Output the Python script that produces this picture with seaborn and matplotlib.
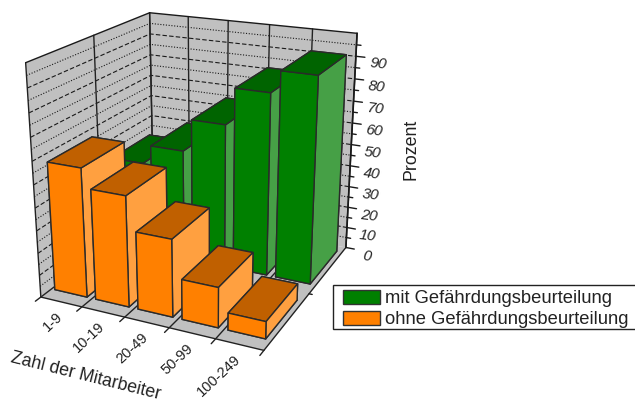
import numpy as np
import matplotlib
matplotlib.use("Agg")
import matplotlib.pyplot as plt
import seaborn as sns
from matplotlib.patches import Patch, Rectangle
from mpl_toolkits.mplot3d import proj3d
from mpl_toolkits.mplot3d.art3d import Poly3DCollection

sns.set_theme(style="white")
plt.rcParams["font.family"] = ["Liberation Sans", "DejaVu Sans"]

categories = ["1-9", "10-19", "20-49", "50-99", "100-249"]
mit = [42.1, 50.9, 65.6, 82.0, 91.7]
ohne = [57.2, 48.8, 34.1, 17.6, 7.5]
z_ticks = list(range(0, 100, 10))
series_labels = ["mit Gefährdungsbeurteilung", "ohne Gefährdungsbeurteilung"]

W, H = 635, 403
fig = plt.figure(figsize=(W / 100, H / 100), dpi=100)
ax = fig.add_axes([0, 0, 1, 1], projection="3d", computed_zorder=False)
ax.set_xlim(0, 5, view_margin=0)
ax.set_ylim(0, 1, view_margin=0)
ax.set_zlim(0, 100, view_margin=0)
ax.view_init(elev=20.4319, azim=-64.5249, roll=0.1614)
ax.set_proj_type("persp", focal_length=0.4677)
ax.set_box_aspect((1, 1.0023, 1.0035))
side, cx, cy = 400.3053, 195.3077, 169.1252
ax.set_position([(cx - side / 2) / W, 1 - (cy + side / 2) / H, side / W, side / H])
ax.apply_aspect()
ax.set_axis_off()
ax.patch.set_visible(False)


def project(x, y, z):
    px, py, _ = proj3d.proj_transform(x, y, z, ax.get_proj())
    return px, py


# Floor and the two walls
wall = "#C0C0C0"
for pts in ([(0, 0, 0), (5, 0, 0), (5, 1, 0), (0, 1, 0)],
            [(0, 0, 0), (0, 1, 0), (0, 1, 100), (0, 0, 100)],
            [(0, 1, 0), (5, 1, 0), (5, 1, 100), (0, 1, 100)]):
    ax.add_collection3d(Poly3DCollection([pts], facecolors=wall, edgecolors="none", zorder=0))

# Wall grid: dashed at tens, dotted at fives
for z in range(5, 100, 5):
    ls = (0, (4, 2)) if z % 10 == 0 else (0, (1, 1.5))
    ax.plot([0, 0, 5], [0, 1, 1], [z, z, z], color="k", lw=0.8, ls=ls, zorder=1)
frame = "#222222"
for i in range(6):
    ax.plot([i, i], [1, 1], [0, 100], color=frame, lw=1, zorder=1)
    ax.plot([i, i], [-0.04, 1], [0, 0], color=frame, lw=1, zorder=1)
for y in (0, 0.5, 1):
    ax.plot([0, 0], [y, y], [0, 100], color=frame, lw=1, zorder=1)
ax.plot([0, 5], [0, 0], [0, 0], color=frame, lw=1, zorder=1)
ax.plot([5, 5.07], [0.5, 0.5], [0, 0], color="k", lw=1, zorder=1)
ax.plot([0, 0, 5], [0, 1, 1], [100, 100, 100], color="k", lw=1, zorder=1)
ax.plot([5, 5], [1, 1], [0, 100], color="k", lw=1.2, zorder=1)
for z in range(0, 100, 5):
    ax.plot([5, 5 + (0.2 if z % 10 == 0 else 0.1)], [1, 1], [z, z], color="k", lw=1, zorder=1)

# Tick labels
text_color = "#222222"
for z in z_ticks:
    ax.text2D(*project(5.5, 1, z - 2.3), str(z), transform=ax.transData, style="italic",
              fontsize=11, rotation=-6, ha="center", va="center", color=text_color, zorder=5)
for i, label in enumerate(categories):
    ax.annotate(label, xy=project(i + 0.5, 0, 0), xycoords="data", xytext=(-1, -13),
                textcoords="offset pixels", rotation=43, fontsize=10.5, ha="right", va="center",
                rotation_mode="anchor", color=text_color, zorder=5)

# Bars: front, top and side faces each have their own shade
green = sns.color_palette(["#008000", "#006400", "#46A046"])
orange = sns.color_palette(["#FF8000", "#C06000", "#FFA040"])
bar_offset, bar_width = 0.081, 0.791


def bars(values, y0, depth, shades, base_order):
    front, top, flank = shades
    for i, v in enumerate(values):
        ax.bar3d(i + bar_offset, y0, 0, bar_width, depth, v,
                 color=[front, top, front, flank, flank, flank],
                 shade=False, edgecolor="#2a2a2a", linewidth=1, zorder=base_order + i)


bars(mit, 0.586, 0.358, green, 2)
bars(ohne, 0.081, 0.345, orange, 10)

# Axis titles
fig.text(411 / W, 1 - 149.5 / H, "Prozent", rotation=90, ha="center", va="center",
         fontsize=12.8, color=text_color)
fig.text(86 / W, 1 - 376.5 / H, "Zahl der Mitarbeiter", rotation=-14, ha="center", va="center",
         fontsize=12.8, color=text_color)

# Legend box running off the right edge
fig.add_artist(Rectangle((332.5 / W, 1 - 329 / H), 320 / W, 44 / H, transform=fig.transFigure,
                         fc="white", ec="#222222", lw=1))
fig.legend(handles=[Patch(fc=green[0], ec="#333333", label=series_labels[0]),
                    Patch(fc=orange[0], ec="#333333", label=series_labels[1])],
           loc="upper left", bbox_to_anchor=(343 / W, 1 - 290 / H), frameon=False, fontsize=13.2,
           handlelength=2.02, handleheight=0.77, handletextpad=0.26, borderaxespad=0, borderpad=0,
           labelspacing=0.2, labelcolor=text_color)
fig.savefig("out.png", dpi=100)
